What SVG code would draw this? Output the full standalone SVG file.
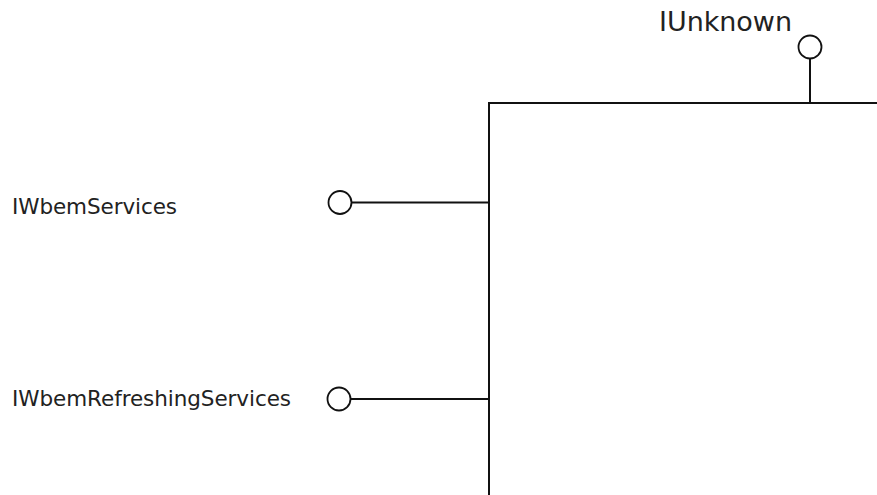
<svg xmlns="http://www.w3.org/2000/svg" width="877" height="495" viewBox="0 0 877 495">
<style>
text{font-family:"DejaVu Sans","Verdana",sans-serif;fill:#222}
.ln{stroke:#111;stroke-width:2;fill:none}
.lp{stroke:#111;stroke-width:1.8;fill:#fff}
</style>
<rect width="877" height="495" fill="#fff"/>
<g id="component">
<path class="ln" d="M489,495 V103 H877"/>
</g>
<g id="connectors">
<line class="ln" x1="810" y1="59" x2="810" y2="103"/>
<line class="ln" x1="352" y1="202.5" x2="489" y2="202.5"/>
<line class="ln" x1="351" y1="399" x2="489" y2="399"/>
</g>
<g id="iunknown">
<circle class="lp" cx="810" cy="47" r="11.5"/>
<text x="659" y="31" font-size="27" textLength="133">IUnknown</text>
</g>
<g id="iwbemservices">
<circle class="lp" cx="340" cy="202.5" r="11.5"/>
<text x="12" y="214" font-size="21.5" textLength="165">IWbemServices</text>
</g>
<g id="iwbemrefreshingservices">
<circle class="lp" cx="339" cy="399" r="11.5"/>
<text x="12" y="406" font-size="21.5" textLength="279">IWbemRefreshingServices</text>
</g>
</svg>
